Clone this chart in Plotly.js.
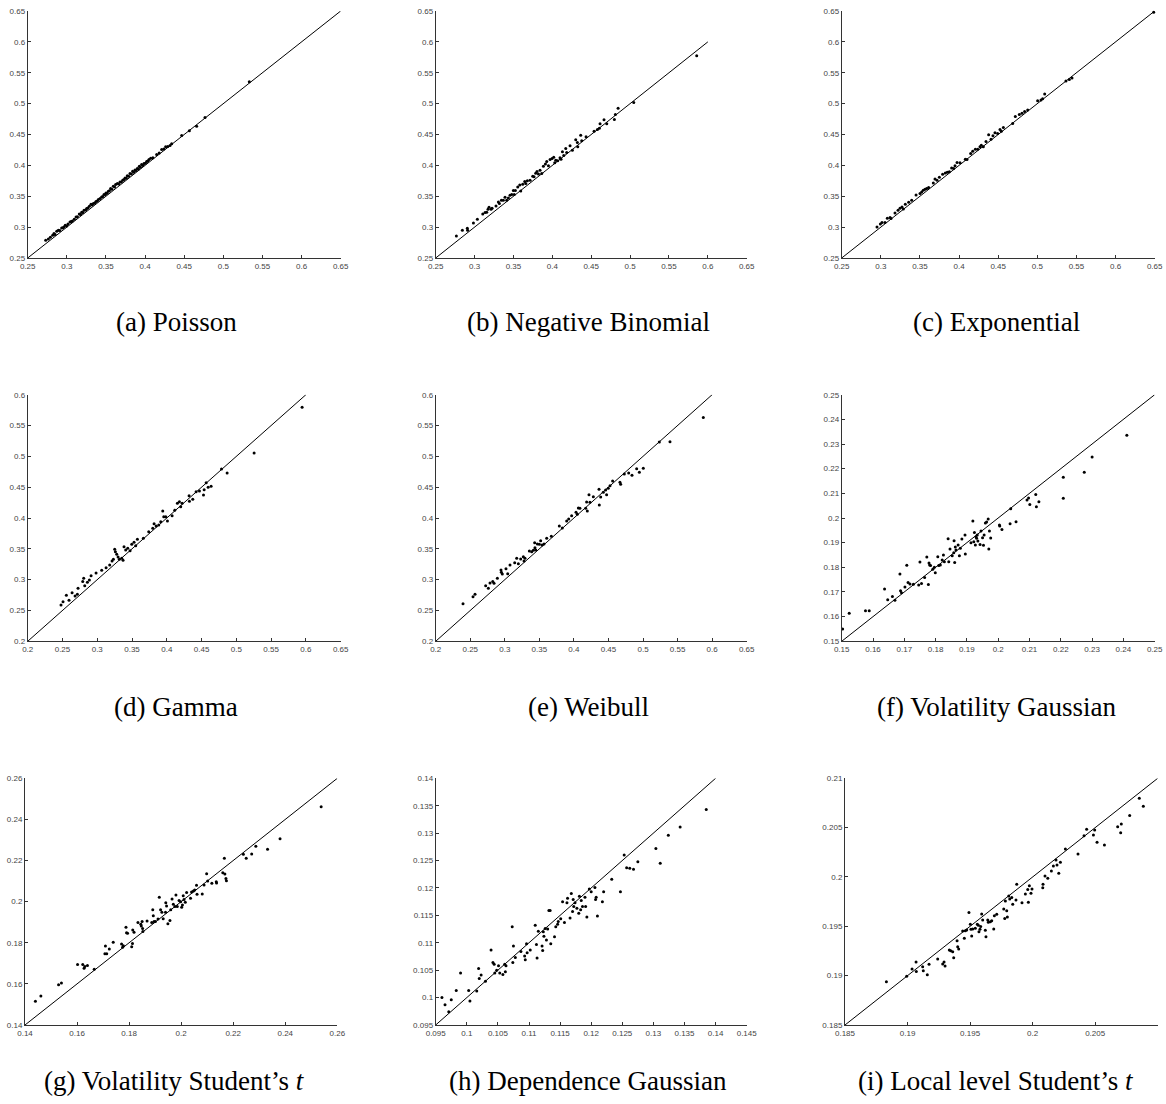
<!DOCTYPE html>
<html>
<head>
<meta charset="utf-8">
<script src="https://cdn.plot.ly/plotly-3.0.1.min.js"></script>
<style>
  html, body { margin: 0; padding: 0; background: #ffffff; }
  #chart { width: 1166px; height: 1104px; }
</style>
</head>
<body>
<div id="chart"></div>
<script>
// ---------------- DATA ----------------
const captions = [
  "(a) Poisson", "(b) Negative Binomial", "(c) Exponential",
  "(d) Gamma", "(e) Weibull", "(f) Volatility Gaussian",
  "(g) Volatility Student’s <i>t</i>", "(h) Dependence Gaussian", "(i) Local level Student’s <i>t</i>"
];

// tick values per axis
const ticks25to65 = [0.25, 0.3, 0.35, 0.4, 0.45, 0.5, 0.55, 0.6, 0.65];
const ticks20to65 = [0.2, 0.25, 0.3, 0.35, 0.4, 0.45, 0.5, 0.55, 0.6, 0.65];
const ticks20to60 = [0.2, 0.25, 0.3, 0.35, 0.4, 0.45, 0.5, 0.55, 0.6];
const ticksVolG = [0.15, 0.16, 0.17, 0.18, 0.19, 0.2, 0.21, 0.22, 0.23, 0.24, 0.25];
const ticksVolT = [0.14, 0.16, 0.18, 0.2, 0.22, 0.24, 0.26];
const ticksDepX = [0.095, 0.1, 0.105, 0.11, 0.115, 0.12, 0.125, 0.13, 0.135, 0.14, 0.145];
const ticksDepY = [0.095, 0.1, 0.105, 0.11, 0.115, 0.12, 0.125, 0.13, 0.135, 0.14];
const ticksLocal = [0.185, 0.19, 0.195, 0.2, 0.205, 0.21];

// 45-degree reference line end points per panel
const diagLo = [0.25, 0.25, 0.25, 0.2, 0.2, 0.15, 0.14, 0.095, 0.185];
const diagHi = [0.65, 0.6, 0.65, 0.6, 0.6, 0.25, 0.26, 0.14, 0.21];

// (a) Poisson
const poissonX = [0.273,0.2764,0.2790,0.2819,0.2836,0.2850,0.2871,0.2892,0.2910,0.2934,0.2950,0.2964,0.2980,0.2998,0.3015,0.3041,0.3055,0.3071,0.3095,0.3118,0.3135,0.3160,0.3175,0.3190,0.3205,0.3220,0.3240,0.3254,0.3270,0.3288,0.3309,0.3325,0.3339,0.3355,0.3373,0.3390,0.3403,0.3425,0.3445,0.3460,0.3475,0.3490,0.3501,0.3515,0.3531,0.3545,0.3560,0.3575,0.3594,0.3610,0.3624,0.3646,0.3662,0.3680,0.3697,0.3714,0.3730,0.3744,0.3760,0.3773,0.3790,0.3807,0.3825,0.3841,0.3856,0.3871,0.3885,0.3901,0.3915,0.3927,0.3940,0.3956,0.3972,0.3986,0.4003,0.4020,0.4035,0.4050,0.4072,0.4100,0.4148,0.4180,0.4212,0.4240,0.4263,0.4290,0.4319,0.4340,0.4468,0.4566,0.4659,0.4766,0.5332];
const poissonY = [0.2786,0.2808,0.2835,0.2868,0.2895,0.2882,0.2932,0.2949,0.2945,0.2986,0.2990,0.3003,0.3030,0.3019,0.3052,0.3084,0.3090,0.3100,0.3128,0.3165,0.3170,0.3214,0.3205,0.3241,0.3238,0.3273,0.3276,0.3300,0.3310,0.3338,0.3370,0.3358,0.3381,0.3392,0.3414,0.3425,0.3446,0.3462,0.3489,0.3496,0.3527,0.3530,0.3554,0.3550,0.3581,0.3588,0.3624,0.3612,0.3662,0.3650,0.3689,0.3705,0.3700,0.3732,0.3730,0.3759,0.3770,0.3797,0.3792,0.3830,0.3825,0.3868,0.3860,0.3905,0.3890,0.3927,0.3915,0.3949,0.3940,0.3986,0.3970,0.4014,0.4000,0.4030,0.4035,0.4062,0.4070,0.4095,0.4116,0.4125,0.4176,0.4200,0.4257,0.4265,0.4300,0.4305,0.4322,0.4350,0.4484,0.4559,0.4635,0.4776,0.5354];

// (b) Negative Binomial
const negbinX = [0.2766,0.2843,0.2907,0.2910,0.2985,0.3036,0.3105,0.3135,0.3156,0.3173,0.3186,0.3212,0.3225,0.3276,0.3306,0.3319,0.3345,0.3370,0.3392,0.3413,0.3435,0.3456,0.3478,0.3499,0.3510,0.3525,0.3555,0.3581,0.3594,0.3619,0.3645,0.3658,0.3679,0.3714,0.3748,0.3765,0.3786,0.3803,0.3821,0.3842,0.3864,0.3885,0.3911,0.3928,0.3950,0.3971,0.3997,0.4018,0.4031,0.4044,0.4069,0.4099,0.4112,0.4130,0.4147,0.4173,0.4185,0.4228,0.4258,0.4301,0.4322,0.4327,0.4365,0.4378,0.4434,0.4537,0.4580,0.4605,0.4614,0.4665,0.4700,0.4798,0.4811,0.4846,0.5047,0.5857];
const negbinY = [0.2857,0.2949,0.2981,0.2950,0.3068,0.3127,0.3214,0.3235,0.3241,0.3289,0.3322,0.3289,0.3305,0.3343,0.3408,0.3381,0.3435,0.3435,0.3484,0.3435,0.3473,0.3516,0.3527,0.3592,0.3530,0.3592,0.3651,0.3684,0.3586,0.3695,0.3738,0.3705,0.3749,0.3759,0.3824,0.3814,0.3873,0.3900,0.3862,0.3922,0.3868,0.3986,0.4024,0.4062,0.3992,0.4095,0.4111,0.4132,0.4041,0.4084,0.4073,0.4122,0.4100,0.4219,0.4159,0.4273,0.4208,0.4316,0.4246,0.4413,0.4370,0.4300,0.4489,0.4397,0.4462,0.4554,0.4581,0.4603,0.4673,0.4738,0.4673,0.4743,0.4824,0.4927,0.5019,0.5776];

// (c) Exponential
const expoX = [0.2951,0.2994,0.3015,0.3053,0.3083,0.3118,0.3130,0.3181,0.3220,0.3245,0.3271,0.3288,0.3313,0.3356,0.3394,0.3450,0.3501,0.3522,0.3543,0.3565,0.3586,0.3611,0.3671,0.3692,0.3718,0.3748,0.3790,0.3824,0.3850,0.3876,0.3905,0.3931,0.3948,0.3974,0.4012,0.4080,0.4101,0.4148,0.4174,0.4208,0.4238,0.4267,0.4284,0.4310,0.4344,0.4378,0.4408,0.4433,0.4459,0.4493,0.4523,0.4540,0.4566,0.4685,0.4719,0.4770,0.4804,0.4838,0.4877,0.5004,0.5047,0.5068,0.5094,0.5366,0.5409,0.5443,0.6487];
const expoY = [0.3003,0.3051,0.3073,0.3073,0.3143,0.3154,0.3138,0.3230,0.3273,0.3305,0.3327,0.3295,0.3370,0.3403,0.3435,0.3522,0.3543,0.3570,0.3597,0.3614,0.3624,0.3641,0.3716,0.3781,0.3759,0.3808,0.3857,0.3878,0.3889,0.3895,0.3959,0.3949,0.3992,0.4046,0.4041,0.4100,0.4095,0.4192,0.4230,0.4262,0.4262,0.4300,0.4327,0.4300,0.4386,0.4495,0.4424,0.4478,0.4527,0.4516,0.4581,0.4554,0.4614,0.4678,0.4792,0.4824,0.4846,0.4873,0.4895,0.5046,0.5057,0.5078,0.5154,0.5365,0.5392,0.5414,0.6478];

// (d) Gamma
const gammaX = [0.2479,0.2508,0.2556,0.2594,0.2638,0.2681,0.2714,0.2724,0.2791,0.2805,0.2820,0.2858,0.2887,0.2911,0.2983,0.3064,0.3127,0.3179,0.3213,0.3232,0.3251,0.3261,0.3280,0.3299,0.3318,0.3352,0.3371,0.3385,0.3409,0.3438,0.3472,0.3496,0.3529,0.3553,0.3577,0.3663,0.3740,0.3798,0.3817,0.3846,0.3884,0.3913,0.3942,0.3956,0.3985,0.4009,0.4076,0.4114,0.4152,0.4181,0.4200,0.4220,0.4320,0.4325,0.4373,0.4421,0.4469,0.4527,0.4537,0.4566,0.4594,0.4637,0.4786,0.4867,0.5255,0.5945];
const gammaY = [0.2589,0.2643,0.2746,0.2665,0.2789,0.2735,0.2762,0.2859,0.2968,0.3022,0.2903,0.2957,0.2995,0.3065,0.3108,0.3151,0.3195,0.3238,0.3303,0.3330,0.3492,0.3454,0.3411,0.3368,0.3330,0.3346,0.3314,0.3535,0.3481,0.3508,0.3470,0.3573,0.3605,0.3551,0.3654,0.3670,0.3778,0.3832,0.3908,0.3870,0.3886,0.3941,0.4114,0.4022,0.4022,0.3951,0.4038,0.4124,0.4238,0.4265,0.4184,0.4238,0.4362,0.4270,0.4303,0.4427,0.4438,0.4373,0.4459,0.4573,0.4497,0.4514,0.4795,0.4730,0.5054,0.5795];

// (e) Weibull
const weibullX = [0.2395,0.2540,0.2569,0.2723,0.2762,0.2786,0.2825,0.2844,0.2892,0.2945,0.2950,0.2964,0.3017,0.3042,0.3075,0.3143,0.3172,0.3196,0.3230,0.3268,0.3278,0.3292,0.3355,0.3389,0.3413,0.3432,0.3436,0.3447,0.3471,0.3500,0.3519,0.3538,0.3567,0.3606,0.3673,0.3789,0.3832,0.3895,0.3924,0.3967,0.4030,0.4049,0.4064,0.4087,0.4170,0.4184,0.4194,0.4218,0.4232,0.4281,0.4363,0.4367,0.4387,0.4425,0.4459,0.4473,0.4497,0.4522,0.4560,0.4666,0.4676,0.4729,0.4792,0.4840,0.4908,0.4947,0.5004,0.5236,0.5390,0.5872];
const weibullY = [0.2611,0.2724,0.2762,0.2903,0.2859,0.2946,0.2968,0.2941,0.3022,0.3157,0.3119,0.3092,0.3178,0.3097,0.3238,0.3276,0.3346,0.3259,0.3335,0.3373,0.3303,0.3346,0.3465,0.3454,0.3476,0.3600,0.3519,0.3481,0.3578,0.3573,0.3632,0.3562,0.3578,0.3670,0.3703,0.3870,0.3838,0.3951,0.3984,0.4038,0.4092,0.4059,0.4162,0.4157,0.4157,0.4259,0.4113,0.4378,0.4254,0.4346,0.4465,0.4211,0.4341,0.4416,0.4454,0.4378,0.4481,0.4524,0.4600,0.4578,0.4546,0.4714,0.4730,0.4692,0.4800,0.4741,0.4805,0.5232,0.5238,0.5632];

// (f) Volatility Gaussian
const volGaussX = [0.1503,0.1524,0.1576,0.1588,0.1637,0.1647,0.1662,0.1670,0.1686,0.1688,0.1691,0.1702,0.1708,0.1712,0.1718,0.1729,0.1746,0.1750,0.1755,0.1765,0.1772,0.1777,0.1779,0.1781,0.1784,0.1791,0.1796,0.1799,0.1807,0.1810,0.1815,0.1821,0.1825,0.1828,0.1840,0.1842,0.1846,0.1853,0.1858,0.1859,0.1861,0.1863,0.1865,0.1872,0.1876,0.1879,0.1884,0.1894,0.1895,0.1913,0.1919,0.1922,0.1924,0.1927,0.1929,0.1931,0.1933,0.1935,0.1942,0.1945,0.1950,0.1953,0.1955,0.1959,0.1963,0.1968,0.1970,0.1972,0.1976,0.2004,0.2005,0.2012,0.2038,0.2040,0.2057,0.2092,0.2097,0.2101,0.2120,0.2122,0.2130,0.2208,0.2208,0.2275,0.2300,0.2411];
const volGaussY = [0.1550,0.1614,0.1624,0.1624,0.1712,0.1668,0.1682,0.1666,0.1773,0.1705,0.1697,0.1720,0.1808,0.1738,0.1732,0.1731,0.1728,0.1822,0.1734,0.1759,0.1842,0.1730,0.1818,0.1809,0.1807,0.1792,0.1800,0.1778,0.1843,0.1807,0.1809,0.1830,0.1850,0.1823,0.1916,0.1823,0.1874,0.1847,0.1859,0.1908,0.1820,0.1882,0.1870,0.1891,0.1847,0.1877,0.1915,0.1931,0.1854,0.1900,0.1988,0.1904,0.1941,0.1891,0.1924,0.1918,0.1931,0.1907,0.1893,0.1947,0.1920,0.1889,0.1931,0.1980,0.1984,0.1996,0.1874,0.1947,0.1919,0.1972,0.1968,0.1953,0.1977,0.2038,0.1985,0.2073,0.2081,0.2055,0.2095,0.2046,0.2066,0.2165,0.2080,0.2186,0.2247,0.2336];

// (g) Volatility Student's t
const volStudX = [0.1440,0.1461,0.1529,0.1540,0.1602,0.1622,0.1627,0.1630,0.1640,0.1666,0.1709,0.1707,0.1714,0.1724,0.1739,0.1771,0.1778,0.1775,0.1788,0.1790,0.1794,0.1810,0.1813,0.1814,0.1819,0.1834,0.1845,0.1847,0.1850,0.1852,0.1853,0.1869,0.1887,0.1891,0.1893,0.1896,0.1901,0.1911,0.1916,0.1921,0.1926,0.1931,0.1940,0.1941,0.1944,0.1949,0.1957,0.1960,0.1965,0.1970,0.1976,0.1980,0.1985,0.1992,0.1998,0.2002,0.2005,0.2008,0.2011,0.2016,0.2021,0.2036,0.2040,0.2047,0.2052,0.2059,0.2061,0.2081,0.2088,0.2098,0.2102,0.2118,0.2135,0.2136,0.2160,0.2166,0.2168,0.2172,0.2174,0.2239,0.2250,0.2271,0.2287,0.2332,0.2380,0.2538];
const volStudY = [0.1515,0.1541,0.1596,0.1604,0.1694,0.1694,0.1676,0.1685,0.1690,0.1671,0.1784,0.1747,0.1747,0.1770,0.1802,0.1794,0.1786,0.1778,0.1875,0.1849,0.1846,0.1781,0.1796,0.1862,0.1851,0.1899,0.1890,0.1882,0.1903,0.1870,0.1855,0.1906,0.1899,0.1961,0.1932,0.1903,0.1903,0.1916,0.2021,0.1961,0.1948,0.1917,0.1948,0.1995,0.1979,0.1893,0.1908,0.1961,0.2013,0.1987,0.1977,0.2032,0.1976,0.2005,0.2000,0.1973,0.1984,0.2029,0.2010,0.1997,0.2045,0.2016,0.2047,0.2052,0.2057,0.2080,0.2036,0.2037,0.2081,0.2136,0.2100,0.2089,0.2097,0.2091,0.2141,0.2211,0.2134,0.2112,0.2102,0.2230,0.2211,0.2232,0.2269,0.2255,0.2306,0.2462];

// (h) Dependence Gaussian
const depGaussX = [0.0960,0.0965,0.0971,0.0975,0.0983,0.0990,0.1003,0.1005,0.1016,0.1019,0.1020,0.1023,0.1030,0.1039,0.1042,0.1044,0.1045,0.1048,0.1051,0.1053,0.1058,0.1061,0.1062,0.1063,0.1073,0.1074,0.1075,0.1078,0.1087,0.1093,0.1094,0.1096,0.1097,0.1102,0.1110,0.1112,0.1113,0.1115,0.1121,0.1122,0.1123,0.1124,0.1126,0.1128,0.1130,0.1132,0.1134,0.1135,0.1141,0.1143,0.1146,0.1147,0.1151,0.1154,0.1157,0.1161,0.1162,0.1166,0.1168,0.1170,0.1171,0.1172,0.1174,0.1177,0.1180,0.1181,0.1183,0.1184,0.1186,0.1190,0.1191,0.1193,0.1197,0.1200,0.1206,0.1207,0.1208,0.1210,0.1218,0.1220,0.1233,0.1247,0.1253,0.1257,0.1262,0.1268,0.1275,0.1304,0.1311,0.1324,0.1343,0.1385];
const depGaussY = [0.1000,0.0987,0.0974,0.0996,0.1013,0.1045,0.1013,0.0994,0.1012,0.1053,0.1035,0.1041,0.1030,0.1087,0.1064,0.1061,0.1045,0.1050,0.1058,0.1045,0.1042,0.1061,0.1047,0.1058,0.1129,0.1064,0.1094,0.1073,0.1084,0.1076,0.1069,0.1098,0.1082,0.1087,0.1132,0.1097,0.1072,0.1121,0.1094,0.1086,0.1120,0.1112,0.1126,0.1105,0.1125,0.1159,0.1159,0.1098,0.1111,0.1129,0.1134,0.1139,0.1144,0.1175,0.1137,0.1173,0.1181,0.1145,0.1190,0.1157,0.1179,0.1166,0.1173,0.1163,0.1154,0.1185,0.1160,0.1177,0.1166,0.1183,0.1166,0.1147,0.1198,0.1193,0.1201,0.1179,0.1183,0.1149,0.1175,0.1193,0.1216,0.1193,0.1260,0.1237,0.1236,0.1234,0.1248,0.1272,0.1245,0.1296,0.1311,0.1343];

// (i) Local level Student's t
const localX = [0.18831,0.18993,0.19036,0.19068,0.19070,0.19121,0.19126,0.19158,0.19172,0.19241,0.19281,0.19292,0.19300,0.19334,0.19345,0.19361,0.19369,0.19396,0.19401,0.19409,0.19441,0.19454,0.19462,0.19473,0.19491,0.19502,0.19507,0.19513,0.19521,0.19542,0.19558,0.19566,0.19571,0.19579,0.19585,0.19593,0.19601,0.19622,0.19627,0.19641,0.19646,0.19662,0.19673,0.19689,0.19694,0.19713,0.19769,0.19777,0.19782,0.19793,0.19798,0.19809,0.19817,0.19833,0.19841,0.19867,0.19873,0.19915,0.19942,0.19961,0.19966,0.19974,0.19987,0.19995,0.20081,0.20083,0.20099,0.20121,0.20150,0.20166,0.20187,0.20195,0.20209,0.20222,0.20262,0.20363,0.20411,0.20432,0.20486,0.20496,0.20515,0.20574,0.20680,0.20704,0.20709,0.20776,0.20853,0.20885];
const localY = [0.18939,0.18993,0.19068,0.19139,0.19041,0.19091,0.19051,0.19010,0.19115,0.19169,0.19118,0.19139,0.19098,0.19260,0.19253,0.19243,0.19182,0.19355,0.19294,0.19270,0.19453,0.19378,0.19456,0.19463,0.19639,0.19520,0.19470,0.19402,0.19473,0.19480,0.19520,0.19510,0.19446,0.19470,0.19497,0.19625,0.19564,0.19459,0.19395,0.19564,0.19541,0.19547,0.19557,0.19473,0.19608,0.19622,0.19676,0.19578,0.19757,0.19659,0.19595,0.19807,0.19777,0.19791,0.19723,0.19767,0.19926,0.19740,0.19828,0.19872,0.19743,0.19912,0.19834,0.19878,0.19892,0.19926,0.20010,0.19986,0.20061,0.20111,0.20172,0.20122,0.20037,0.20149,0.20284,0.20233,0.20419,0.20483,0.20426,0.20476,0.20351,0.20324,0.20510,0.20449,0.20537,0.20622,0.20797,0.20716];

// ---------------- BUILD ----------------
const W = 1166, H = 1104;
const panels = [
  { xs: poissonX, ys: poissonY, xt: ticks25to65, yt: ticks25to65 },
  { xs: negbinX,  ys: negbinY,  xt: ticks25to65, yt: ticks25to65 },
  { xs: expoX,    ys: expoY,    xt: ticks25to65, yt: ticks25to65 },
  { xs: gammaX,   ys: gammaY,   xt: ticks20to65, yt: ticks20to60 },
  { xs: weibullX, ys: weibullY, xt: ticks20to65, yt: ticks20to60 },
  { xs: volGaussX, ys: volGaussY, xt: ticksVolG, yt: ticksVolG },
  { xs: volStudX, ys: volStudY, xt: ticksVolT, yt: ticksVolT },
  { xs: depGaussX, ys: depGaussY, xt: ticksDepX, yt: ticksDepY },
  { xs: localX,   ys: localY,   xt: ticksLocal, yt: ticksLocal }
];

// plot-area pixel boxes [left, right, top, bottom]
const boxes = [
  [27.7, 340.7, 11, 258], [435.7, 746.7, 11, 258], [841.7, 1154.7, 11, 258],
  [27.7, 340.7, 394.7, 641.3], [435.7, 746.7, 394.7, 641.3], [841.7, 1154.7, 394.7, 641.3],
  [25, 337.3, 778.3, 1025], [435.7, 746.7, 778.3, 1025], [845, 1157.7, 778.3, 1025]
];
const capPos = [
  [176, 322], [588, 322], [996, 322],
  [176, 707], [588, 707], [996, 707],
  [174, 1081], [588, 1081], [996, 1081]
];

const axisColor = '#333333';
const traces = [];
const layout = {
  width: W, height: H,
  margin: { l: 0, r: 0, t: 0, b: 0 },
  paper_bgcolor: '#ffffff', plot_bgcolor: '#ffffff',
  showlegend: false,
  font: { family: 'Liberation Sans, Arial, sans-serif', size: 8, color: '#444444' },
  annotations: []
};

function fmt(v) { return String(parseFloat(v.toFixed(4))); }

panels.forEach((p, i) => {
  const n = i + 1;
  const xa = n === 1 ? 'x' : 'x' + n;
  const ya = n === 1 ? 'y' : 'y' + n;
  const b = boxes[i];
  traces.push({
    type: 'scatter', mode: 'lines', x: [diagLo[i], diagHi[i]], y: [diagLo[i], diagHi[i]],
    xaxis: xa, yaxis: ya, line: { color: '#000000', width: 1 }, hoverinfo: 'skip'
  });
  traces.push({
    type: 'scatter', mode: 'markers', x: p.xs, y: p.ys, xaxis: xa, yaxis: ya,
    marker: { color: '#000000', size: 3 }, cliponaxis: false
  });
  const common = {
    showline: true, linecolor: axisColor, linewidth: 1,
    ticks: 'inside', ticklen: 3, tickwidth: 1, tickcolor: axisColor,
    showgrid: false, zeroline: false, mirror: false,
    tickfont: { size: 8, color: '#444444', family: 'Liberation Sans, Arial, sans-serif' },
    tickmode: 'array', fixedrange: true
  };
  layout['xaxis' + (n === 1 ? '' : n)] = Object.assign({}, common, {
    domain: [b[0] / W, b[1] / W], anchor: ya,
    range: [p.xt[0], p.xt[p.xt.length - 1]],
    tickvals: p.xt, ticktext: p.xt.map(fmt)
  });
  layout['yaxis' + (n === 1 ? '' : n)] = Object.assign({}, common, {
    domain: [1 - b[3] / H, 1 - b[2] / H], anchor: xa,
    range: [p.yt[0], p.yt[p.yt.length - 1]],
    tickvals: p.yt, ticktext: p.yt.map(fmt)
  });
  layout.annotations.push({
    xref: 'paper', yref: 'paper', x: capPos[i][0] / W, y: 1 - capPos[i][1] / H,
    xanchor: 'center', yanchor: 'middle', showarrow: false, text: captions[i],
    font: { family: 'Liberation Serif, Times New Roman, serif', size: 27, color: '#000000' }
  });
});

Plotly.newPlot('chart', traces, layout, { displayModeBar: false, staticPlot: true });
</script>
</body>
</html>
